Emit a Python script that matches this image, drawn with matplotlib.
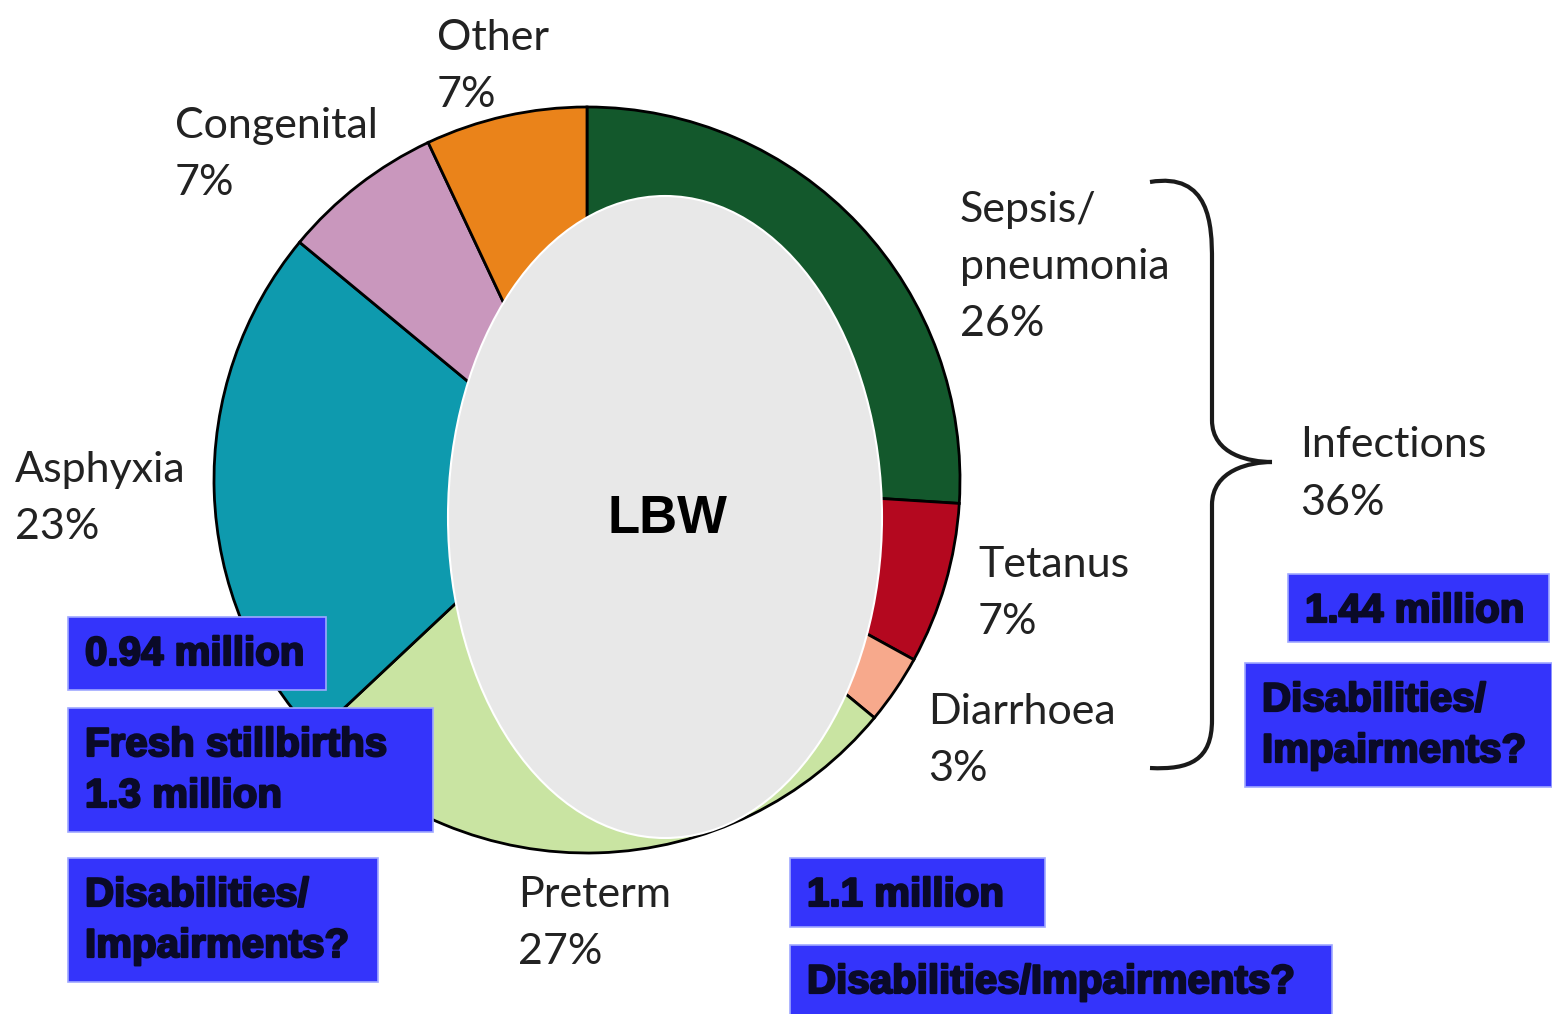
import matplotlib
matplotlib.use('Agg')
import matplotlib.pyplot as plt
import matplotlib.patheffects as pe
from matplotlib.patches import Ellipse, Rectangle, PathPatch
from matplotlib.path import Path

# causes of neonatal death, clockwise from the top
causes = ['Sepsis/\npneumonia', 'Tetanus', 'Diarrhoea', 'Preterm', 'Asphyxia', 'Congenital', 'Other']
shares = [26, 7, 3, 27, 23, 7, 7]
colors = ['#13582c', '#b4081f', '#f7a98c', '#c9e4a2', '#0e9aae', '#c997bd', '#ea831a']

group_label = 'Infections'
group_share = 36
centre_label = 'LBW'

# blue note boxes
notes = ['0.94 million', 'Fresh stillbirths\n1.3 million', 'Disabilities/\nImpairments?',
         '1.1 million', 'Disabilities/Impairments?',
         '1.44 million', 'Disabilities/\nImpairments?']

W, H = 1552, 1014
fig = plt.figure(figsize=(W / 100, H / 100), dpi=100)
ax = fig.add_axes([0, 0, 1, 1])

# y axis is flipped (pixel-like coords), so start at -90 and go counterclock
# to get a pie that visually starts at 12 o'clock and runs clockwise
ax.pie(shares, colors=colors, center=(587, 480), radius=373, startangle=-90,
       counterclock=True, frame=True,
       wedgeprops=dict(edgecolor='black', linewidth=2.0))

ax.add_patch(Ellipse((665, 517), 434, 642, facecolor='#e8e8e8', edgecolor='white',
                     linewidth=1.5, zorder=5))
ax.text(667, 519, centre_label, ha='center', va='center', fontsize=38,
        fontweight='bold', family='Liberation Sans', color='black', zorder=6)


def put_lines(x, y, lines, step, **kw):
    for i, line in enumerate(lines):
        ax.text(x, y + i * step, line, **kw)


# slice labels (x, first baseline)
lab_font = dict(family='Lato', fontsize=31, color='#222222', ha='left', va='baseline')
lab_pos = [(960, 222), (978, 577), (928, 724), (518, 907), (15, 482), (175, 138), (437, 50)]
for name, share, (x, y) in zip(causes, shares, lab_pos):
    put_lines(x, y, name.split('\n') + [f'{share}%'], 57, **lab_font)
put_lines(1300, 457, [group_label, f'{group_share}%'], 58, **lab_font)

# curly brace for the infections group
verts = [(1150, 182), (1210, 172), (1212, 225), (1212, 260),
         (1212, 400), (1212, 400), (1212, 420),
         (1212, 455), (1250, 462), (1272, 462),
         (1250, 462), (1212, 470), (1212, 505),
         (1212, 700), (1212, 700), (1212, 720),
         (1212, 760), (1190, 770), (1150, 768)]
codes = [Path.MOVETO] + [Path.CURVE4] * 18
ax.add_patch(PathPatch(Path(verts, codes), facecolor='none', edgecolor='#1a1a1a', linewidth=3))

# blue boxes: (x0, y0, x1, y1) in pixels
boxes = [(68, 617, 326, 690), (68, 708, 433, 832), (68, 858, 378, 982),
         (790, 858, 1045, 927), (790, 945, 1332, 1020),
         (1288, 574, 1549, 642), (1245, 663, 1552, 787)]
box_font = dict(ha='left', va='center', fontsize=29, fontweight='bold',
                family='Liberation Sans', color='#0a0a28', zorder=8,
                path_effects=[pe.withStroke(linewidth=1.6, foreground='#0a0a28')])
for note, (x0, y0, x1, y1) in zip(notes, boxes):
    ax.add_patch(Rectangle((x0, y0), x1 - x0, y1 - y0, facecolor='#3434fb',
                           edgecolor='#9fa8ff', linewidth=1.2, zorder=7))
    put_lines(x0 + 17, y0 + 37, note.split('\n'), 51, **box_font)

ax.set_xlim(0, W)
ax.set_ylim(H, 0)
ax.set_aspect('equal')
ax.axis('off')

fig.savefig('out.png', dpi=100, facecolor='white')
